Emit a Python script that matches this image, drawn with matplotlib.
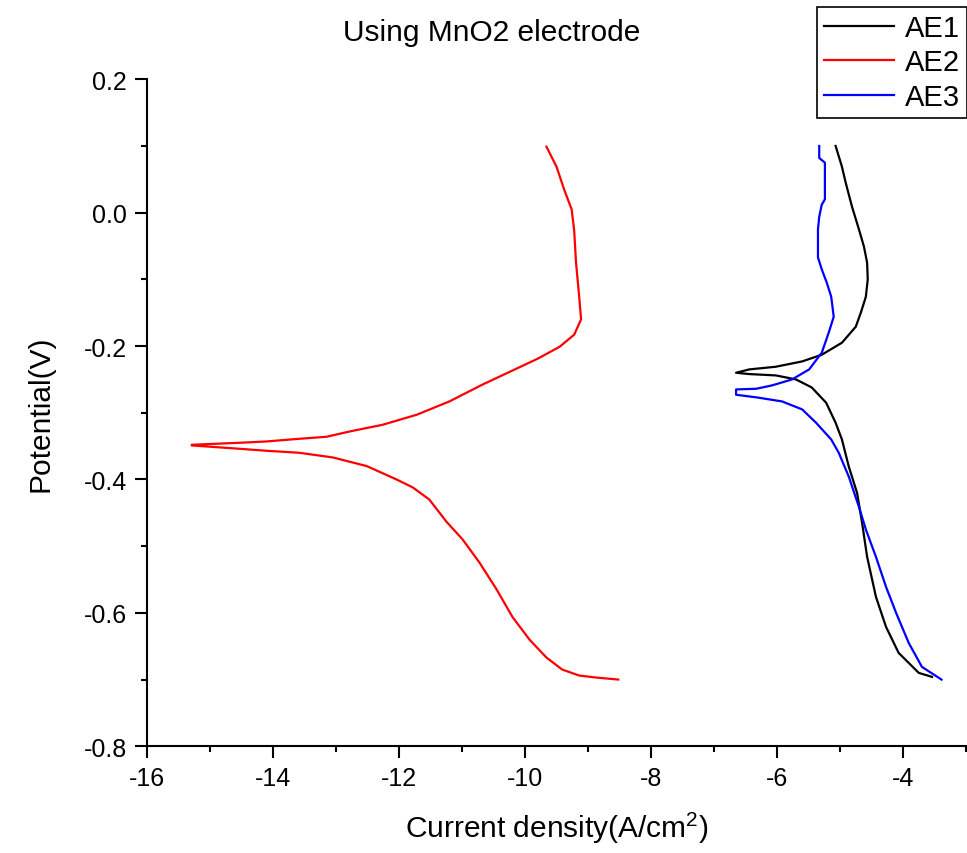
import matplotlib
matplotlib.use("Agg")
import matplotlib.pyplot as plt
from matplotlib.ticker import MultipleLocator

plt.rcParams["font.family"] = ["Liberation Sans", "DejaVu Sans"]
plt.rcParams["mathtext.default"] = "regular"

# AE1 (black) - current density (log) vs potential
ae1_x = [-3.54, -3.75, -4.07, -4.27, -4.43, -4.57, -4.65, -4.73, -4.86, -4.97, -5.07, -5.22,
         -5.45, -5.70, -6.02, -6.44, -6.65, -6.44, -6.02, -5.60, -5.29, -4.97, -4.75, -4.67,
         -4.59, -4.56, -4.57, -4.62, -4.70, -4.81, -4.91, -4.97, -5.07]
ae1_y = [-0.696, -0.690, -0.660, -0.621, -0.576, -0.516, -0.465, -0.420, -0.381, -0.340, -0.315, -0.285,
         -0.262, -0.250, -0.244, -0.242, -0.240, -0.235, -0.231, -0.223, -0.213, -0.195, -0.171, -0.150,
         -0.126, -0.100, -0.075, -0.051, -0.025, 0.009, 0.045, 0.069, 0.100]

# AE2 (red)
ae2_x = [-8.52, -8.87, -9.14, -9.41, -9.66, -9.93, -10.20, -10.45, -10.72, -10.99, -11.25, -11.52,
         -11.78, -12.04, -12.51, -13.05, -13.58, -14.10, -14.53, -15.29, -15.29, -14.53, -14.10,
         -13.58, -13.15, -12.78, -12.26, -11.72, -11.20, -10.68, -10.41, -9.80, -9.45, -9.22,
         -9.11, -9.14, -9.19, -9.22, -9.26, -9.38, -9.50, -9.66]
ae2_y = [-0.700, -0.697, -0.694, -0.685, -0.667, -0.640, -0.606, -0.565, -0.525, -0.490, -0.463, -0.430,
         -0.412, -0.400, -0.380, -0.367, -0.360, -0.357, -0.354, -0.349, -0.348, -0.345, -0.343,
         -0.339, -0.336, -0.328, -0.318, -0.303, -0.283, -0.258, -0.246, -0.219, -0.201, -0.183,
         -0.160, -0.126, -0.075, -0.026, 0.005, 0.035, 0.069, 0.099]

# AE3 (blue)
ae3_x = [-3.39, -3.70, -3.91, -4.11, -4.27, -4.43, -4.59, -4.70, -4.86, -5.02, -5.14, -5.38,
         -5.60, -5.92, -6.32, -6.65, -6.65, -6.33, -6.08, -5.76, -5.49, -5.29, -5.18, -5.10,
         -5.14, -5.21, -5.29, -5.35, -5.35, -5.33, -5.29, -5.24, -5.24, -5.33, -5.33]
ae3_y = [-0.700, -0.681, -0.645, -0.600, -0.561, -0.516, -0.475, -0.441, -0.396, -0.360, -0.340, -0.315,
         -0.295, -0.283, -0.277, -0.273, -0.265, -0.264, -0.259, -0.250, -0.235, -0.210, -0.180, -0.156,
         -0.126, -0.105, -0.085, -0.067, -0.025, -0.006, 0.012, 0.020, 0.075, 0.082, 0.100]

fig = plt.figure(figsize=(9.67, 8.54), dpi=100)
ax = fig.add_axes([0.152, 0.125, 0.847, 0.781])

ax.plot(ae1_x, ae1_y, color="black", lw=1.6, label="AE1")
ax.plot(ae2_x, ae2_y, color="#ff0000", lw=1.6, label="AE2")
ax.plot(ae3_x, ae3_y, color="#0000ff", lw=1.6, label="AE3")

ax.set_xlim(-16, -3)
ax.set_ylim(-0.8, 0.2)
ax.xaxis.set_major_locator(MultipleLocator(2))
ax.xaxis.set_minor_locator(MultipleLocator(1))
ax.yaxis.set_major_locator(MultipleLocator(0.2))
ax.yaxis.set_minor_locator(MultipleLocator(0.1))
ax.yaxis.set_major_formatter(plt.FuncFormatter(lambda v, p: f"{v:.1f}"))
ax.xaxis.set_major_formatter(plt.FuncFormatter(lambda v, p: f"{v:.0f}"))

for s in ["top", "right"]:
    ax.spines[s].set_visible(False)
for s in ["left", "bottom"]:
    ax.spines[s].set_linewidth(1.5)

ax.tick_params(which="major", direction="out", length=8.5, width=1.5, labelsize=18, pad=6)
ax.tick_params(which="minor", direction="out", length=4.5, width=1.5)

ax.set_xlabel("Current density(A/cm$^2$)", fontsize=21.5, labelpad=14)
ax.set_ylabel("Potential(V)", fontsize=21.5, labelpad=21)
ax.set_title("Using MnO2 electrode", fontsize=21.5, x=0.421, y=1.0, pad=28)

leg = ax.legend(loc="upper right", bbox_to_anchor=(1.0, 0.991), bbox_transform=fig.transFigure,
                fontsize=21, frameon=True, fancybox=False, framealpha=1, edgecolor="black",
                borderpad=0.25, labelspacing=0.22, handlelength=2.4, handletextpad=0.35,
                borderaxespad=0)
leg.get_frame().set_linewidth(1.2)

fig.savefig("out.png", dpi=100)
